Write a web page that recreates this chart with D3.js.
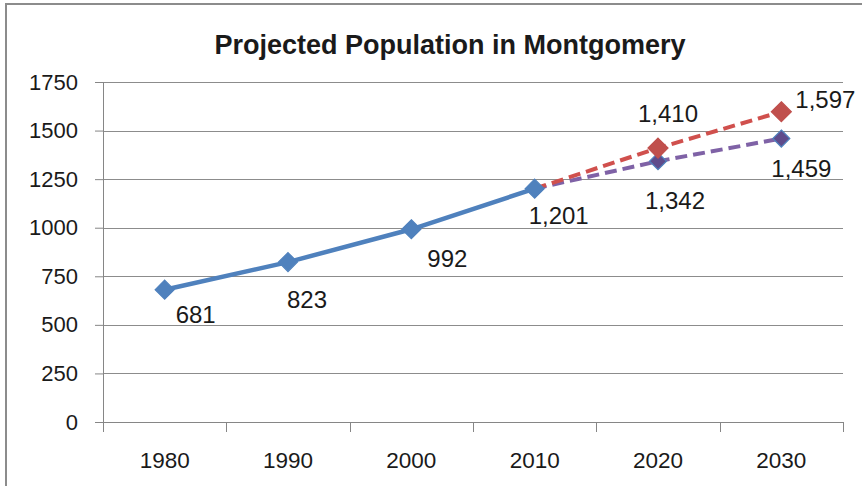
<!DOCTYPE html>
<html>
<head>
<meta charset="utf-8">
<script src="https://cdn.jsdelivr.net/npm/d3@7"></script>
<style>
  html, body { margin: 0; padding: 0; background: #fff; }
  svg { display: block; }
  text { font-family: "Liberation Sans", Arial, sans-serif; fill: #1a1a1a; }
</style>
</head>
<body>
<svg id="chart" width="862" height="486"></svg>
<script>
/* Projected Population in Montgomery */

const years = ['1980', '1990', '2000', '2010', '2020', '2030'];
const actualYears = ['1980', '1990', '2000', '2010'];
const actualValues = [681, 823, 992, 1201];
const projYears = ['2010', '2020', '2030'];
const highValues = [1201, 1410, 1597];
const lowValues = [1201, 1342, 1459];
const yTicks = [0, 250, 500, 750, 1000, 1250, 1500, 1750];

const svg = d3.select('#chart');
const margin = { left: 103, right: 19, top: 82, bottom: 64 };
const W = 862, H = 486;

const x = d3.scaleBand().domain(years).range([margin.left, W - margin.right]).padding(0);
const y = d3.scaleLinear().domain([0, 1750]).range([H - margin.bottom, margin.top]);
const cx = d => x(d) + x.bandwidth() / 2;
const fmt = d3.format(',');

// outer chart border (only top & left show in the frame)
svg.append('rect')
  .attr('x', 6).attr('y', 4).attr('width', 900).attr('height', 520)
  .attr('fill', 'none').attr('stroke', '#8c8c8c').attr('stroke-width', 2);

// title
const title = svg.append('text')
  .attr('x', 450).attr('y', 54)
  .attr('text-anchor', 'middle')
  .attr('font-weight', 'bold')
  .attr('font-size', 27)
  .text('Projected Population in Montgomery');
// squeeze to the width the original title takes
const tw = title.node().getComputedTextLength();
if (tw > 485) title.attr('textLength', 485).attr('lengthAdjust', 'spacingAndGlyphs');

// gridlines + y axis
const yAxis = svg.append('g')
  .attr('transform', `translate(${margin.left},0)`)
  .call(d3.axisLeft(y).tickValues(yTicks).tickSize(8).tickPadding(17).tickFormat(d => d));
yAxis.select('.domain').remove();
yAxis.selectAll('.tick line').attr('stroke', '#868686');
yAxis.selectAll('.tick text').attr('font-size', 22).attr('fill', '#1a1a1a')
  .attr('font-family', '"Liberation Sans", Arial, sans-serif');

svg.append('g').selectAll('line').data(yTicks.filter(d => d > 0)).join('line')
  .attr('x1', margin.left).attr('x2', W - margin.right)
  .attr('y1', d => Math.round(y(d)) + 0.5).attr('y2', d => Math.round(y(d)) + 0.5)
  .attr('stroke', '#8c8c8c').attr('stroke-width', 1);

svg.append('line')
  .attr('x1', margin.left + 0.5).attr('x2', margin.left + 0.5)
  .attr('y1', y(1750)).attr('y2', y(0) + 10)
  .attr('stroke', '#868686');

// x axis (ticks between categories)
svg.append('line')
  .attr('x1', margin.left).attr('x2', W - margin.right)
  .attr('y1', Math.round(y(0)) + 0.5).attr('y2', Math.round(y(0)) + 0.5)
  .attr('stroke', '#868686');
svg.append('g').selectAll('line').data(years.concat(['end'])).join('line')
  .attr('x1', d => Math.round(d === 'end' ? W - margin.right : x(d)) + 0.5)
  .attr('x2', d => Math.round(d === 'end' ? W - margin.right : x(d)) + 0.5)
  .attr('y1', y(0)).attr('y2', y(0) + 10)
  .attr('stroke', '#868686');
svg.append('g').selectAll('text').data(years).join('text')
  .attr('x', d => cx(d)).attr('y', 468)
  .attr('text-anchor', 'middle').attr('font-size', 22.5)
  .text(d => d);

// series
const line = d3.line().x(d => cx(d[0])).y(d => y(d[1]));
const high = d3.zip(projYears, highValues);
const low = d3.zip(projYears, lowValues);
const actual = d3.zip(actualYears, actualValues);

svg.append('path').datum(low).attr('d', line)
  .attr('fill', 'none').attr('stroke', '#7f62a6').attr('stroke-width', 4)
  .attr('stroke-dasharray', '12,6');
svg.append('path').datum(high).attr('d', line)
  .attr('fill', 'none').attr('stroke', '#d0504d').attr('stroke-width', 4)
  .attr('stroke-dasharray', '12,6');
svg.append('path').datum(actual).attr('d', line)
  .attr('fill', 'none').attr('stroke', '#4f81bd').attr('stroke-width', 4.5);

const diamond = r => `M0,${-r}L${r},0L0,${r}L${-r},0Z`;
function markers(data, r, fill, stroke) {
  svg.append('g').selectAll('path').data(data).join('path')
    .attr('transform', d => `translate(${cx(d[0])},${y(d[1])})`)
    .attr('d', diamond(r))
    .attr('fill', fill).attr('stroke', stroke).attr('stroke-width', 1.2);
}
markers(low.slice(1), 8.5, '#5f4b8b', '#4f81bd');
markers(high.slice(1), 10, '#c0504d', '#c0504d');
markers(actual, 9.5, '#4f81bd', '#4f81bd');

// data labels, placed where the original puts them
const actualNudge = [[31, 33], [19, 46], [36, 38], [24, 35]];
const highNudge = [[10, -26], [44, -4]];
const lowNudge = [[17, 48], [20, 38]];
function labels(data, nudge) {
  svg.append('g').selectAll('text').data(data).join('text')
    .attr('x', (d, i) => cx(d[0]) + nudge[i][0])
    .attr('y', (d, i) => y(d[1]) + nudge[i][1])
    .attr('text-anchor', 'middle').attr('font-size', 24)
    .text(d => fmt(d[1]));
}
labels(actual, actualNudge);
labels(high.slice(1), highNudge);
labels(low.slice(1), lowNudge);
</script>
</body>
</html>
